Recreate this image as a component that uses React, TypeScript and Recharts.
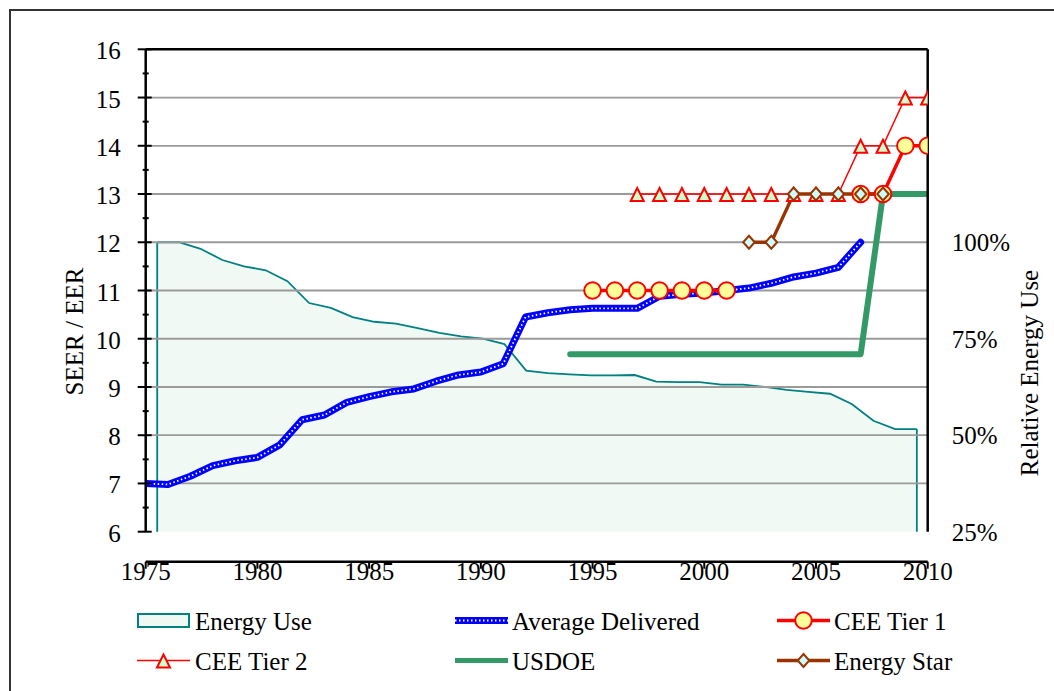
import React from 'react';
import { ComposedChart, Line, Area, XAxis, YAxis, ReferenceLine } from 'recharts';

const FONT = '"Liberation Serif", "Times New Roman", Times, serif';

// ---- Categories / ticks ----
const xTicks = [1975, 1980, 1985, 1990, 1995, 2000, 2005, 2010];
const leftTicks = [6, 6.5, 7, 7.5, 8, 8.5, 9, 9.5, 10, 10.5, 11, 11.5, 12, 12.5, 13, 13.5, 14, 14.5, 15, 15.5, 16];
const gridValues = [7, 8, 9, 10, 11, 12, 13, 14, 15];
const rightTicks = [25, 50, 75, 100];

// ---- Average Delivered (SEER) ----
const deliveredYears = [1975, 1976, 1977, 1978, 1979, 1980, 1981, 1982, 1983, 1984, 1985, 1986, 1987, 1988, 1989, 1990, 1991, 1992, 1993, 1994, 1995, 1996, 1997, 1998, 1999, 2000, 2001, 2002, 2003, 2004, 2005, 2006, 2007];
const avgDelivered = [7.0, 6.98, 7.15, 7.37, 7.47, 7.54, 7.8, 8.32, 8.42, 8.68, 8.8, 8.9, 8.96, 9.12, 9.25, 9.31, 9.48, 10.45, 10.54, 10.6, 10.63, 10.63, 10.63, 10.88, 10.92, 10.95, 11.0, 11.05, 11.15, 11.28, 11.36, 11.48, 12.0];

// ---- Energy Use (relative, %) ----
const energyYears = [1975, 1976, 1977, 1978, 1979, 1980, 1981, 1982, 1983, 1984, 1985, 1986, 1987, 1988, 1989, 1990, 1991, 1992, 1993, 1994, 1995, 1996, 1997, 1998, 1999, 2000, 2001, 2002, 2003, 2004, 2005, 2006, 2007, 2008, 2009, 2010];
const energyUse = [100, 100, 98.3, 95.4, 93.75, 92.75, 89.9, 84.25, 83, 80.6, 79.4, 78.9, 77.75, 76.5, 75.6, 75, 73.6, 66.75, 66.1, 65.75, 65.5, 65.5, 65.6, 63.9, 63.75, 63.75, 63.1, 63.1, 62.5, 61.75, 61.25, 60.75, 58.1, 53.75, 51.6, 51.6];

// ---- CEE Tier 1 ----
const ceeTier1Years = [1995, 1996, 1997, 1998, 1999, 2000, 2001, 2002, 2003, 2004, 2005, 2006, 2007, 2008, 2009, 2010];
const ceeTier1 = [11, 11, 11, 11, 11, 11, 11, null, null, null, null, null, 13, 13, 14, 14];

// ---- CEE Tier 2 ----
const ceeTier2Years = [1997, 1998, 1999, 2000, 2001, 2002, 2003, 2004, 2005, 2006, 2007, 2008, 2009, 2010];
const ceeTier2 = [13, 13, 13, 13, 13, 13, 13, 13, 13, 13, 14, 14, 15, 15];

// ---- USDOE ----
const usdoeYears = [1994, 1995, 1996, 1997, 1998, 1999, 2000, 2001, 2002, 2003, 2004, 2005, 2006, 2007, 2008, 2009, 2010];
const usdoe = [9.68, 9.68, 9.68, 9.68, 9.68, 9.68, 9.68, 9.68, 9.68, 9.68, 9.68, 9.68, 9.68, 9.68, 13, 13, 13];

// ---- Energy Star ----
const energyStarYears = [2002, 2003, 2004, 2005, 2006, 2007, 2008];
const energyStar = [12, 12, 13, 13, 13, 13, 13];

const toRows = (xs: number[], vs: (number | null)[]) => xs.map((year, i) => ({ year, value: vs[i] }));

const C = {
  teal: '#008080',
  tealFill: '#e0f2e6',
  blue: '#0000ff',
  red: '#ff0000',
  green: '#339966',
  brown: '#993300',
  yellow: '#ffff99',
  mint: '#ccffcc',
  cyan: '#ccffff',
  grid: '#9a9a9a',
};

const isMissing = (p: any) => p == null || p.cx == null || p.cy == null || p.payload == null || p.payload.value == null;

const CircleDot = (p: any) =>
  isMissing(p) ? <g key={p?.key} /> : (
    <circle key={p.key} cx={p.cx} cy={p.cy} r={8.3} fill={C.yellow} stroke={C.red} strokeWidth={2} />
  );

const TriangleDot = (p: any) =>
  isMissing(p) ? <g key={p?.key} /> : (
    <polygon
      key={p.key}
      points={`${p.cx},${p.cy - 6} ${p.cx - 6.5},${p.cy + 7} ${p.cx + 6.5},${p.cy + 7}`}
      fill={C.mint}
      stroke={C.red}
      strokeWidth={2}
    />
  );

const DiamondDot = (p: any) =>
  isMissing(p) ? <g key={p?.key} /> : (
    <polygon
      key={p.key}
      points={`${p.cx},${p.cy - 6.5} ${p.cx + 5.8},${p.cy} ${p.cx},${p.cy + 6.5} ${p.cx - 5.8},${p.cy}`}
      fill={C.cyan}
      stroke={C.brown}
      strokeWidth={2}
    />
  );

const LeftTick = (props: any) => {
  const { x, y, payload } = props;
  const axisX = x + 25;
  const major = Number.isInteger(payload.value);
  return (
    <g>
      <line
        x1={major ? axisX - 8 : axisX - 3}
        x2={major ? axisX + 6 : axisX + 3}
        y1={y}
        y2={y}
        stroke="#000"
        strokeWidth={2}
      />
      {major && (
        <text x={x} y={y} dy="0.4em" textAnchor="end" fontSize={25} fontFamily={FONT} fill="#000">
          {payload.value}
        </text>
      )}
    </g>
  );
};

const BottomTick = (props: any) => {
  const { x, y, payload } = props;
  return (
    <text x={x} y={y} dy={11} textAnchor="middle" fontSize={25} fontFamily={FONT} fill="#000">
      {payload.value}
    </text>
  );
};

const LegendIcon = ({ kind }: { kind: string }) => {
  switch (kind) {
    case 'area':
      return <rect x={1} y={-6.5} width={51} height={13} fill="#f0f8f3" stroke={C.teal} strokeWidth={2} />;
    case 'avg':
      return (
        <g>
          <line x1={0} x2={53} y1={0} y2={0} stroke={C.blue} strokeWidth={7} />
          <line x1={0} x2={53} y1={0} y2={0} stroke="#fff" strokeWidth={1.8} strokeDasharray="1.5 2.5" />
        </g>
      );
    case 'cee1':
      return (
        <g>
          <line x1={0} x2={53} y1={0} y2={0} stroke={C.red} strokeWidth={3.5} />
          <circle cx={26.5} cy={0} r={8.3} fill={C.yellow} stroke={C.red} strokeWidth={2} />
        </g>
      );
    case 'cee2':
      return (
        <g>
          <line x1={0} x2={53} y1={0} y2={0} stroke={C.red} strokeWidth={1.5} />
          <polygon points={`26.5,-6 20,7 33,7`} fill={C.mint} stroke={C.red} strokeWidth={2} />
        </g>
      );
    case 'doe':
      return <line x1={0} x2={53} y1={0} y2={0} stroke={C.green} strokeWidth={5} />;
    case 'star':
      return (
        <g>
          <line x1={0} x2={53} y1={0} y2={0} stroke={C.brown} strokeWidth={3.3} />
          <polygon points={`26.5,-6.5 32.3,0 26.5,6.5 20.7,0`} fill={C.cyan} stroke={C.brown} strokeWidth={2} />
        </g>
      );
    default:
      return null;
  }
};

const legendItems = [
  { name: 'Energy Use', kind: 'area' },
  { name: 'Average Delivered', kind: 'avg' },
  { name: 'CEE Tier 1', kind: 'cee1' },
  { name: 'CEE Tier 2', kind: 'cee2' },
  { name: 'USDOE', kind: 'doe' },
  { name: 'Energy Star', kind: 'star' },
];
const legendIconX = [137, 455, 777];
const legendTextX = [195, 512, 834];
const legendRowY = [620.5, 660.5];
const legendBaseline = [630, 670];

export default function App() {
  const avgData = toRows(deliveredYears, avgDelivered);
  const energyData = toRows(energyYears, energyUse);
  const t1Data = toRows(ceeTier1Years, ceeTier1);
  const t2Data = toRows(ceeTier2Years, ceeTier2);
  const doeData = toRows(usdoeYears, usdoe);
  const starData = toRows(energyStarYears, energyStar);

  const firstE = energyYears[0];
  const lastE = energyYears[energyYears.length - 1];
  const baseE = rightTicks[0];

  return (
    <div
      style={{
        position: 'fixed',
        left: 0,
        top: 0,
        width: 1054,
        height: 691,
        overflow: 'hidden',
        background: '#fff',
        fontFamily: FONT,
      }}
    >
      <div
        style={{
          position: 'absolute',
          left: 9,
          top: 9,
          width: 2000,
          height: 2000,
          border: '2px solid #333',
          boxSizing: 'border-box',
        }}
      />
      <div style={{ position: 'absolute', left: 0, top: 0 }}>
        <ComposedChart width={1054} height={691} margin={{ top: 49.3, right: 6.3, bottom: 99.3, left: 5 }}>
          <XAxis
            xAxisId="x"
            type="number"
            dataKey="year"
            domain={[1975, 2010]}
            ticks={xTicks}
            interval={0}
            allowDataOverflow
            height={60}
            tickSize={7}
            tickMargin={0}
            axisLine={{ stroke: '#000', strokeWidth: 2.5 }}
            tickLine={{ stroke: '#000', strokeWidth: 2 }}
            tick={<BottomTick />}
          />
          <XAxis
            xAxisId="e"
            type="number"
            dataKey="year"
            domain={[1974.47, 2010.5]}
            allowDataOverflow
            hide
          />
          <YAxis
            yAxisId="left"
            type="number"
            domain={[6, 16]}
            ticks={leftTicks}
            interval={0}
            allowDataOverflow
            width={140.7}
            tickSize={0}
            tickMargin={25}
            tickLine={false}
            axisLine={{ stroke: '#000', strokeWidth: 2.5 }}
            tick={<LeftTick />}
          />
          <YAxis
            yAxisId="right"
            orientation="right"
            type="number"
            domain={[25, 150]}
            ticks={rightTicks}
            interval={0}
            allowDataOverflow
            width={120}
            tickSize={0}
            tickMargin={24}
            tickLine={false}
            tickFormatter={(v: number) => `${v}%`}
            axisLine={{ stroke: '#000', strokeWidth: 2.5 }}
            tick={{ fill: '#000', fontSize: 25, fontFamily: FONT }}
          />

          <Area
            data={energyData}
            xAxisId="e"
            yAxisId="right"
            dataKey="value"
            type="linear"
            stroke={C.teal}
            strokeWidth={1.8}
            fill={C.tealFill}
            fillOpacity={0.45}
            dot={false}
            activeDot={false}
            isAnimationActive={false}
          />
          <ReferenceLine
            xAxisId="e"
            yAxisId="right"
            segment={[{ x: firstE, y: baseE }, { x: firstE, y: energyUse[0] }]}
            stroke={C.teal}
            strokeWidth={1.8}
          />
          <ReferenceLine
            xAxisId="e"
            yAxisId="right"
            segment={[{ x: lastE, y: baseE }, { x: lastE, y: energyUse[energyUse.length - 1] }]}
            stroke={C.teal}
            strokeWidth={1.8}
          />

          {gridValues.map((v) => (
            <ReferenceLine key={v} xAxisId="x" yAxisId="left" y={v} stroke={C.grid} strokeWidth={1.8} />
          ))}
          <ReferenceLine xAxisId="x" yAxisId="left" y={16} stroke="#000" strokeWidth={2.5} />

          <Line
            data={avgData}
            xAxisId="x"
            yAxisId="left"
            dataKey="value"
            type="linear"
            stroke={C.blue}
            strokeWidth={7}
            strokeLinejoin="round"
            strokeLinecap="round"
            dot={false}
            activeDot={false}
            isAnimationActive={false}
          />
          <Line
            data={avgData}
            xAxisId="x"
            yAxisId="left"
            dataKey="value"
            type="linear"
            stroke="#ffffff"
            strokeWidth={1.8}
            strokeDasharray="1.5 2.5"
            dot={false}
            activeDot={false}
            legendType="none"
            isAnimationActive={false}
          />
          <Line
            data={doeData}
            xAxisId="x"
            yAxisId="left"
            dataKey="value"
            type="linear"
            stroke={C.green}
            strokeWidth={6}
            strokeLinejoin="round"
            strokeLinecap="round"
            dot={false}
            activeDot={false}
            isAnimationActive={false}
          />
          <Line
            data={t2Data}
            xAxisId="x"
            yAxisId="left"
            dataKey="value"
            type="linear"
            stroke={C.red}
            strokeWidth={1.5}
            dot={TriangleDot}
            activeDot={false}
            isAnimationActive={false}
          />
          <Line
            data={t1Data}
            xAxisId="x"
            yAxisId="left"
            dataKey="value"
            type="linear"
            stroke={C.red}
            strokeWidth={3.5}
            connectNulls={false}
            dot={CircleDot}
            activeDot={false}
            isAnimationActive={false}
          />
          <Line
            data={starData}
            xAxisId="x"
            yAxisId="left"
            dataKey="value"
            type="linear"
            stroke={C.brown}
            strokeWidth={3.3}
            dot={DiamondDot}
            activeDot={false}
            isAnimationActive={false}
          />
        </ComposedChart>
      </div>

      <svg
        width={1054}
        height={691}
        style={{ position: 'absolute', left: 0, top: 0, pointerEvents: 'none' }}
      >
        <text
          x={83}
          y={331.5}
          transform="rotate(-90 83 331.5)"
          textAnchor="middle"
          fontSize={25}
          fontFamily={FONT}
          fill="#000"
        >
          SEER / EER
        </text>
        <text
          x={1037.5}
          y={373}
          transform="rotate(-90 1037.5 373)"
          textAnchor="middle"
          fontSize={25}
          fontFamily={FONT}
          fill="#000"
        >
          Relative Energy Use
        </text>
        {legendItems.map((item, i) => {
          const col = i % 3;
          const row = Math.floor(i / 3);
          return (
            <g key={item.name}>
              <g transform={`translate(${legendIconX[col]} ${legendRowY[row]})`}>
                <LegendIcon kind={item.kind} />
              </g>
              <text x={legendTextX[col]} y={legendBaseline[row]} fontSize={25} fontFamily={FONT} fill="#000">
                {item.name}
              </text>
            </g>
          );
        })}
      </svg>
    </div>
  );
}
